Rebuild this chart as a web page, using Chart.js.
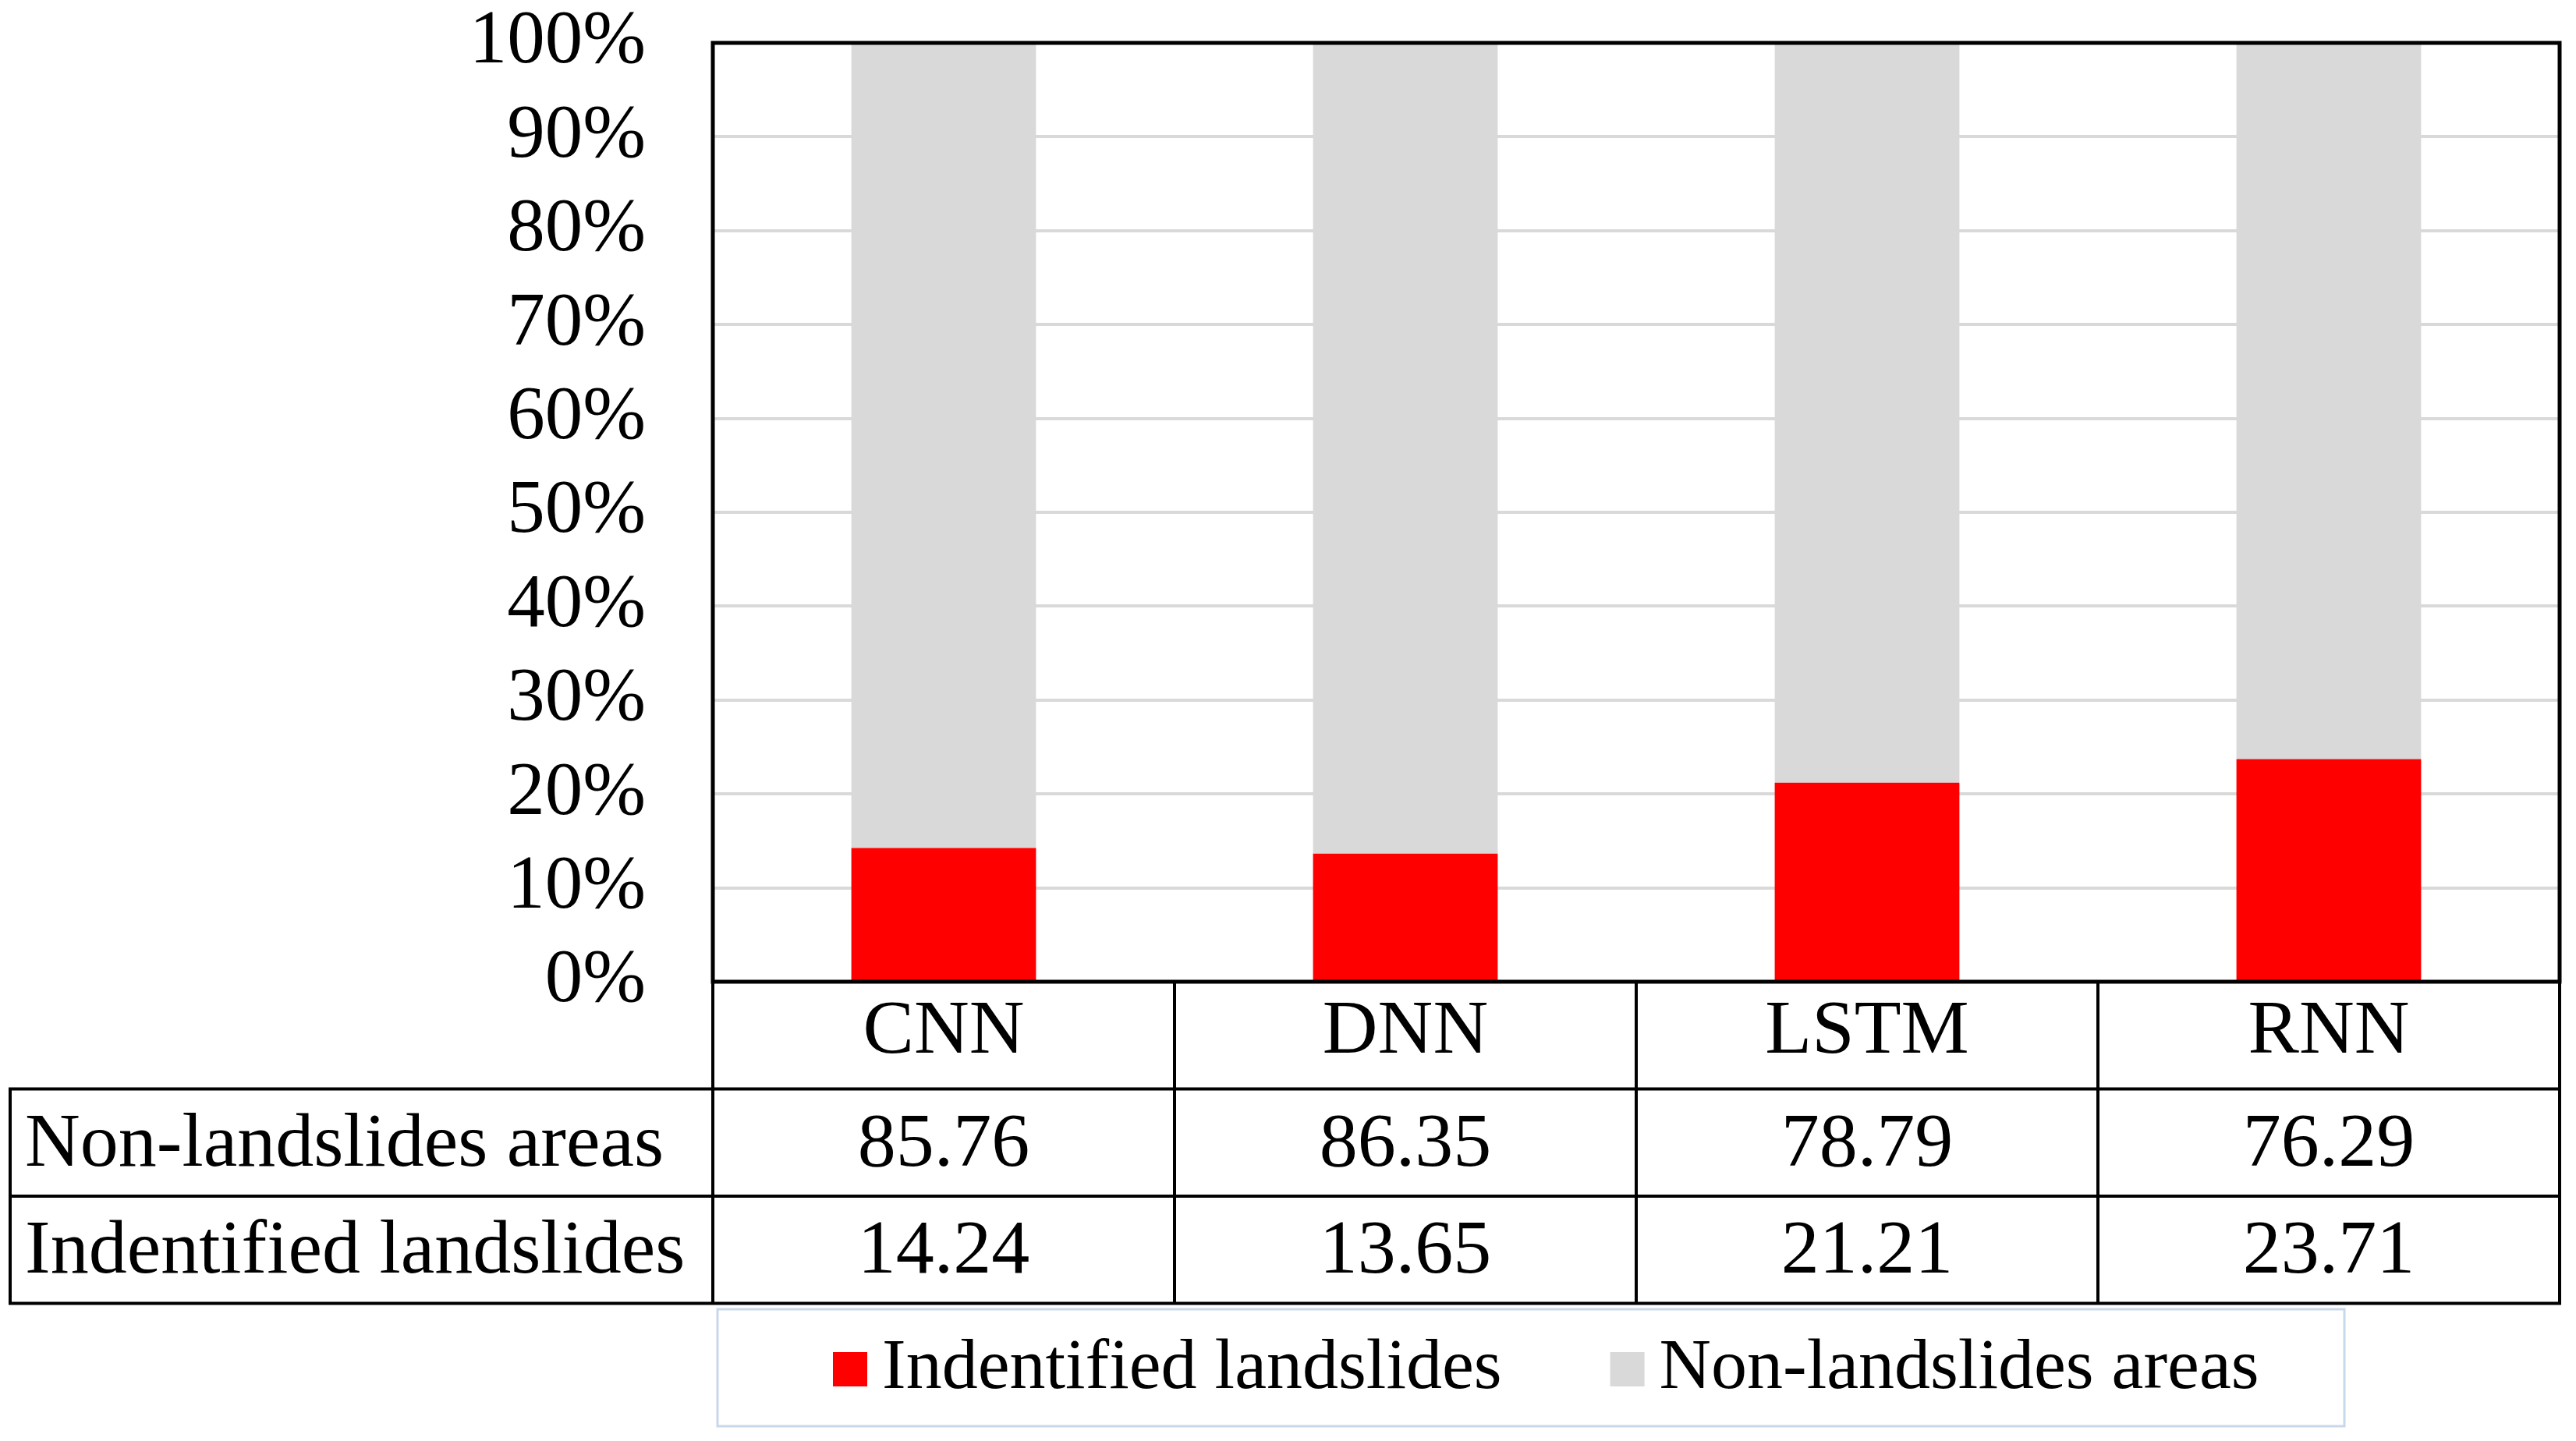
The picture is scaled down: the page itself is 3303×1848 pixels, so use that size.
<!DOCTYPE html>
<html>
<head>
<meta charset="utf-8">
<script src="https://cdn.jsdelivr.net/npm/chart.js@4.4.1/dist/chart.umd.min.js"></script>
<style>
    html, body { margin: 0; padding: 0; background: #fff; }
    #wrap { width: 3303px; height: 1848px; }
</style>
</head>
<body>
<div id="wrap"><canvas id="chart" width="3303" height="1848"></canvas></div>
<script>
// data (percent of area)
const categories = ['CNN', 'DNN', 'LSTM', 'RNN'];
const identified = [14.24, 13.65, 21.21, 23.71];
const nonLandslides = [85.76, 86.35, 78.79, 76.29];
const yTicks = [0, 10, 20, 30, 40, 50, 60, 70, 80, 90, 100];

const FONT = '"Liberation Serif", "Times New Roman", serif';
const ROW_H = 137.5;      // height of each table row
const TABLE_LEFT = 13;    // left edge of the row-label column
const LEGEND_BOX = { left: 920, top: 1679, right: 3006, bottom: 1829 };

// data table under the plot + legend box, drawn from the chart's own scale
const tablePlugin = {
    id: 'dataTable',
    afterDraw(chart) {
        const ctx = chart.ctx;
        const a = chart.chartArea;
        const x = chart.scales.x;
        const half = (x.getPixelForValue(1) - x.getPixelForValue(0)) / 2;
        const edges = categories.map((c, i) => x.getPixelForValue(i) - half);
        edges.push(x.getPixelForValue(categories.length - 1) + half);

        ctx.save();
        ctx.strokeStyle = '#000';
        ctx.lineCap = 'square';

        // plot frame
        ctx.lineWidth = 5;
        ctx.strokeRect(a.left, a.top, a.right - a.left, a.bottom - a.top);

        // table grid
        ctx.lineWidth = 4;
        const y1 = a.bottom + ROW_H, y2 = a.bottom + 2 * ROW_H, y3 = a.bottom + 3 * ROW_H;
        ctx.beginPath();
        edges.forEach(e => { ctx.moveTo(e, a.bottom); ctx.lineTo(e, y3); });
        ctx.moveTo(TABLE_LEFT, y1); ctx.lineTo(TABLE_LEFT, y3);
        [y1, y2, y3].forEach(y => { ctx.moveTo(TABLE_LEFT, y); ctx.lineTo(edges[edges.length - 1], y); });
        ctx.stroke();

        // table text
        const rows = [
            [chart.data.datasets[1].label, nonLandslides],
            [chart.data.datasets[0].label, identified]
        ];
        ctx.fillStyle = '#000';
        ctx.font = '98px ' + FONT;
        ctx.textBaseline = 'middle';
        rows.forEach((r, ri) => {
            const cy = a.bottom + ROW_H * (ri + 1.5) + 4;
            ctx.textAlign = 'left';
            ctx.fillText(r[0], TABLE_LEFT + 19, cy);
            ctx.textAlign = 'center';
            r[1].forEach((v, i) => ctx.fillText(v.toFixed(2), x.getPixelForValue(i), cy));
        });

        // legend box
        const L = LEGEND_BOX;
        ctx.strokeStyle = '#c9d7ea';
        ctx.lineWidth = 3;
        ctx.strokeRect(L.left, L.top, L.right - L.left, L.bottom - L.top);

        ctx.font = '92px ' + FONT;
        ctx.textAlign = 'left';
        const cy = (L.top + L.bottom) / 2 + 2;
        let px = 1068;
        chart.data.datasets.forEach(ds => {
            ctx.fillStyle = ds.backgroundColor;
            ctx.fillRect(px, cy - 22, 44, 44);
            ctx.fillStyle = '#000';
            ctx.fillText(ds.label, px + 63, cy);
            px += 63 + ctx.measureText(ds.label).width + 139;
        });
        ctx.restore();
    }
};

new Chart(document.getElementById('chart'), {
    type: 'bar',
    data: {
        labels: categories,
        datasets: [{
            label: 'Indentified landslides',
            data: identified,
            backgroundColor: '#ff0000',
            borderWidth: 0
        }, {
            label: 'Non-landslides areas',
            data: nonLandslides,
            backgroundColor: '#d9d9d9',
            borderWidth: 0
        }]
    },
    options: {
        responsive: false,
        animation: false,
        devicePixelRatio: 1,
        layout: { padding: { top: 55, right: 21, bottom: 0, left: 0 } },
        datasets: { bar: { categoryPercentage: 1, barPercentage: 0.4 } },
        plugins: {
            legend: { display: false },
            tooltip: { enabled: false }
        },
        scales: {
            x: {
                stacked: true,
                grid: { display: false, drawTicks: false },
                border: { display: false },
                ticks: {
                    padding: 6,
                    color: '#000',
                    autoSkip: false,
                    maxRotation: 0,
                    font: { family: FONT, size: 98 }
                },
                afterFit(scale) {
                    scale.height = 1848 - 1259;
                    scale.paddingLeft = 0;
                    scale.paddingRight = 0;
                }
            },
            y: {
                stacked: true,
                min: 0,
                max: 100,
                afterBuildTicks(scale) { scale.ticks = yTicks.map(v => ({ value: v })); },
                grid: { color: '#d9d9d9', lineWidth: 4, drawTicks: false },
                border: { display: false },
                ticks: {
                    padding: 86,
                    color: '#000',
                    autoSkip: false,
                    font: { family: FONT, size: 97 },
                    callback: v => v + '%'
                },
                afterFit(scale) {
                    scale.width = 914;
                    scale.paddingTop = 0;
                    scale.paddingBottom = 0;
                }
            }
        }
    },
    plugins: [tablePlugin]
});
</script>
</body>
</html>
